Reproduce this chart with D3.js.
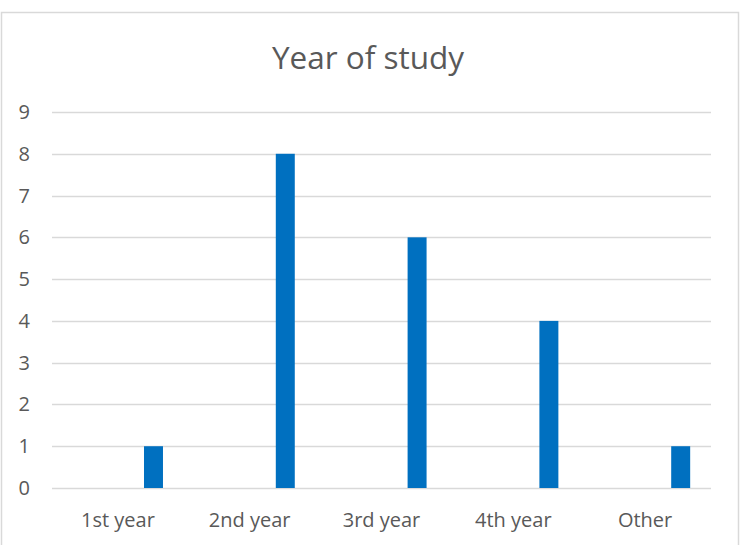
<!DOCTYPE html>
<html><head><meta charset="utf-8">
<script src="https://cdn.jsdelivr.net/npm/d3@7"></script>
<style>html,body{margin:0;padding:0;background:#fff}</style>
</head><body>
<svg id="c" width="744" height="545"></svg>
<script>
const title = "Year of study";
const categories = ["1st year", "2nd year", "3rd year", "4th year", "Other"];
const values = [1, 8, 6, 4, 1];
const yTicks = [0, 1, 2, 3, 4, 5, 6, 7, 8, 9];

const W = 744, H = 545;
const m = {left: 52, right: 33, top: 112, bottom: 57};
const font = "'Open Sans', 'Liberation Sans', sans-serif";
const textColor = "#595959";

const svg = d3.select("#c");
svg.append("rect").attr("x", 1.5).attr("y", 12.5).attr("width", 737).attr("height", 540)
  .attr("fill", "#fff").attr("stroke", "#d9d9d9").attr("stroke-width", 1.5);

const x = d3.scaleBand().domain(categories).range([m.left, W - m.right]).padding(0);
const y = d3.scaleLinear().domain([0, 9]).range([H - m.bottom, m.top]);

// gridlines
svg.append("g").selectAll("line").data(yTicks).join("line")
  .attr("x1", m.left).attr("x2", W - m.right)
  .attr("y1", d => Math.round(y(d)) + 0.5).attr("y2", d => Math.round(y(d)) + 0.5)
  .attr("stroke", "#d9d9d9").attr("stroke-width", 1.3);

// y tick labels
svg.append("g").selectAll("text").data(yTicks).join("text")
  .attr("x", 30).attr("y", d => y(d)).attr("dy", "0.35em")
  .attr("text-anchor", "end").attr("font-family", font).attr("font-size", 20)
  .attr("fill", textColor).text(d => d);

// x labels
svg.append("g").selectAll("text").data(categories).join("text")
  .attr("x", d => x(d) + x.bandwidth() / 2).attr("y", H - m.bottom + 39)
  .attr("text-anchor", "middle").attr("font-family", font).attr("font-size", 20)
  .attr("fill", textColor).text(d => d);

// bars (offset to the right inside each category, as in the reference)
const bw = x.bandwidth() * 0.144;
const off = x.bandwidth() * 0.698;
svg.append("g").selectAll("rect").data(values).join("rect")
  .attr("x", (d, i) => x(categories[i]) + off)
  .attr("width", bw)
  .attr("y", d => y(d))
  .attr("height", d => y(0) - y(d))
  .attr("fill", "#0070C0");

// title
svg.append("text").attr("x", 368).attr("y", 68.5).attr("text-anchor", "middle")
  .attr("font-family", font).attr("font-size", 31.5).attr("fill", textColor).text(title);
</script>
</body></html>
